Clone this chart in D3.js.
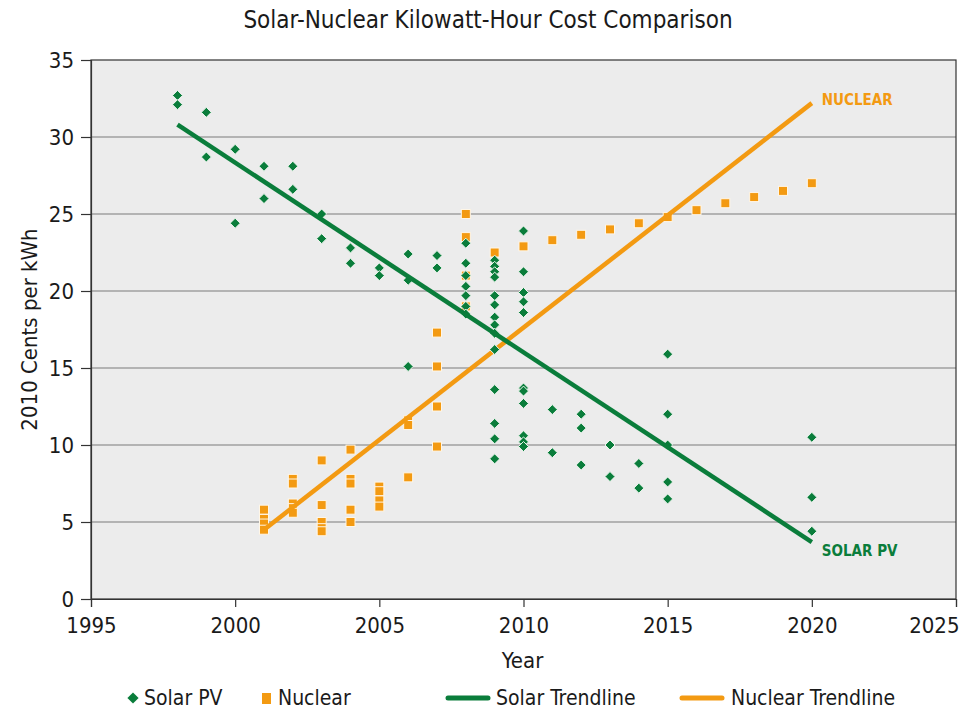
<!DOCTYPE html>
<html>
<head>
<meta charset="utf-8">
<script src="https://cdn.jsdelivr.net/npm/d3@7"></script>
<style>
  body { margin: 0; background: #fff; }
  text { font-family: "DejaVu Sans Condensed", "Liberation Sans Narrow", sans-serif; fill: #1a1a1a; }
</style>
</head>
<body>
<script>
// solar PV observations (year, cents per kWh)
var solarYears = [1998,1998,1999,1999,2000,2000,2001,2001,2002,2002,2003,2003,2004,2004,2005,2005,
  2006,2006,2006,2007,2007,
  2008,2008,2008,2008,2008,2008,2008,
  2009,2009,2009,2009,2009,2009,2009,2009,2009,2009,2009,2009,2009,2009,
  2010,2010,2010,2010,2010,2010,2010,2010,2010,2010,2010,
  2011,2011,2012,2012,2012,2013,2013,2014,2014,2015,2015,2015,2015,2015,2020,2020,2020];
var solarCents = [32.7,32.1,31.6,28.7,29.2,24.4,28.1,26.0,28.1,26.6,25.0,23.4,22.8,21.8,21.5,21.0,
  22.4,20.7,15.1,22.3,21.5,
  23.1,21.8,21.0,20.3,19.7,19.0,18.5,
  22.0,21.6,21.25,20.9,19.7,19.1,18.3,17.8,17.25,16.2,13.6,11.4,10.4,9.1,
  23.9,21.25,19.9,19.3,18.6,13.7,13.5,12.7,10.6,10.2,9.9,
  12.3,9.5,12.0,11.1,8.7,10.0,7.95,8.8,7.2,15.9,12.0,10.0,7.6,6.5,10.5,6.6,4.4];

// nuclear observations
var nuclearYears = [2001,2001,2001,2001,2002,2002,2002,2002,2002,2003,2003,2003,2003,2003,
  2004,2004,2004,2004,2004,2005,2005,2005,2005,2006,2006,2006,2007,2007,2007,2007,
  2008,2008,2008,2008,2009,2010,2011,2012,2013,2014,2015,2016,2017,2018,2019,2020];
var nuclearCents = [5.8,5.2,4.9,4.5,7.8,7.5,6.2,5.9,5.6,9.0,6.1,5.0,4.6,4.4,
  9.7,7.8,7.5,5.8,5.0,7.3,7.0,6.4,6.0,11.6,11.3,7.9,17.3,15.1,12.5,9.9,
  25.0,23.5,21.0,19.0,22.5,22.9,23.3,23.65,24.0,24.4,24.8,25.25,25.7,26.1,26.5,27.0];

// trendline end points
var solarTrendYears = [1998, 2020];
var solarTrendCents = [30.8, 3.7];
var nuclearTrendYears = [2001, 2020];
var nuclearTrendCents = [4.5, 32.2];

var xTicks = [1995, 2000, 2005, 2010, 2015, 2020, 2025];
var yTicks = [0, 5, 10, 15, 20, 25, 30, 35];

var green = "#0a7d3b", orange = "#f39a12";

var margin = {top: 60, right: 14, bottom: 111, left: 91},
    fullwidth = 970,
    fullheight = 710,
    width = fullwidth - margin.left - margin.right,
    height = fullheight - margin.top - margin.bottom;

var x = d3.scaleLinear().domain([1995, 2025]).range([0, width]);
var y = d3.scaleLinear().domain([0, 35]).range([height, 0]);

var root = d3.select("body").append("svg")
    .attr("width", fullwidth)
    .attr("height", fullheight);

root.append("text")
    .attr("x", 488).attr("y", 28)
    .style("text-anchor", "middle")
    .style("font-size", "24px")
    .text("Solar-Nuclear Kilowatt-Hour Cost Comparison");

var svg = root.append("g")
    .attr("transform", "translate(" + margin.left + "," + margin.top + ")");

// plot background
svg.append("rect")
    .attr("width", width).attr("height", height)
    .style("fill", "#ececec");

// gridlines
svg.selectAll(".grid")
    .data(yTicks.filter(function(d) { return d > 0 && d < 35; }))
  .enter().append("line")
    .attr("x1", 0).attr("x2", width)
    .attr("y1", function(d) { return y(d); })
    .attr("y2", function(d) { return y(d); })
    .style("stroke", "#b3b3b3")
    .style("stroke-width", 2);

svg.append("rect")
    .attr("width", width).attr("height", height)
    .style("fill", "none")
    .style("stroke", "#333")
    .style("stroke-width", 1.2);

// axes
var xAxis = svg.append("g")
    .attr("transform", "translate(0," + height + ")")
    .call(d3.axisBottom(x).tickValues(xTicks).tickFormat(d3.format("d")).tickSizeOuter(0).tickSize(8).tickPadding(10));
var yAxis = svg.append("g")
    .call(d3.axisLeft(y).tickValues(yTicks).tickSizeOuter(0).tickSize(10).tickPadding(7));
[xAxis, yAxis].forEach(function(a) {
  a.attr("font-family", null).attr("font-size", null);
  a.select(".domain").style("stroke", "#333").style("stroke-width", 1.2);
  a.selectAll(".tick line").style("stroke", "#333").style("stroke-width", 1.2);
  a.selectAll(".tick text").style("font-size", "22px").style("fill", "#1a1a1a");
});
// last year label sits inside the frame edge
xAxis.selectAll(".tick text").filter(function(d) { return d === 2025; })
    .attr("x", 3).style("text-anchor", "end");

svg.append("text")
    .attr("x", width / 2 - 1).attr("y", height + 69)
    .style("text-anchor", "middle")
    .style("font-size", "22px")
    .text("Year");

svg.append("text")
    .attr("transform", "rotate(-90)")
    .attr("x", -height / 2).attr("y", -54)
    .style("text-anchor", "middle")
    .style("font-size", "22px")
    .text("2010 Cents per kWh");

var diamond = d3.symbol().type(d3.symbolDiamond2).size(64);

// trendlines
function trend(years, cents, color) {
  var pts = years.map(function(d, i) { return [x(d), y(cents[i])]; });
  svg.append("path")
      .attr("d", d3.line()(pts))
      .style("stroke", color)
      .style("stroke-width", 4.5)
      .style("fill", "none");
}

// nuclear squares
var nuc = nuclearYears.map(function(d, i) { return {year: d, v: nuclearCents[i]}; });
svg.selectAll(".nuc")
    .data(nuc)
  .enter().append("rect")
    .attr("class", "nuc")
    .attr("x", function(d) { return x(d.year) - 4.5; })
    .attr("y", function(d) { return y(d.v) - 4.5; })
    .attr("width", 9).attr("height", 9)
    .style("fill", orange)
    .style("stroke", "#fff6e6")
    .style("stroke-width", 1);

trend(nuclearTrendYears, nuclearTrendCents, orange);

var sol = solarYears.map(function(d, i) { return {year: d, v: solarCents[i]}; });
svg.selectAll(".sol")
    .data(sol)
  .enter().append("path")
    .attr("class", "sol")
    .attr("transform", function(d) { return "translate(" + x(d.year) + "," + y(d.v) + ")"; })
    .attr("d", diamond)
    .style("fill", green)
    .style("stroke", "#eef6ef")
    .style("stroke-width", 1);

trend(solarTrendYears, solarTrendCents, green);

// line labels
svg.append("text")
    .attr("x", x(2020) + 10).attr("y", y(32.2) + 2)
    .style("font-size", "15px").style("font-weight", "bold")
    .style("fill", orange)
    .text("NUCLEAR");
svg.append("text")
    .attr("x", x(2020) + 10).attr("y", y(3.7) + 14)
    .style("font-size", "15px").style("font-weight", "bold")
    .style("fill", green)
    .text("SOLAR PV");

// legend
var legend = root.append("g").attr("transform", "translate(0,698)");
legend.append("path")
    .attr("transform", "translate(133,0)")
    .attr("d", d3.symbol().type(d3.symbolDiamond2).size(80))
    .style("fill", green);
legend.append("text").attr("x", 144).attr("y", 7).style("font-size", "21px").text("Solar PV");
legend.append("rect")
    .attr("x", 262).attr("y", -5).attr("width", 9).attr("height", 11)
    .style("fill", orange);
legend.append("text").attr("x", 278).attr("y", 7).style("font-size", "21px").text("Nuclear");
legend.append("line")
    .attr("x1", 448).attr("x2", 488).attr("y1", 0).attr("y2", 0)
    .style("stroke", green).style("stroke-width", 5).style("stroke-linecap", "round");
legend.append("text").attr("x", 496).attr("y", 7).style("font-size", "21px").text("Solar Trendline");
legend.append("line")
    .attr("x1", 682).attr("x2", 722).attr("y1", 0).attr("y2", 0)
    .style("stroke", orange).style("stroke-width", 5).style("stroke-linecap", "round");
legend.append("text").attr("x", 731).attr("y", 7).style("font-size", "21px").text("Nuclear Trendline");
</script>
</body>
</html>
